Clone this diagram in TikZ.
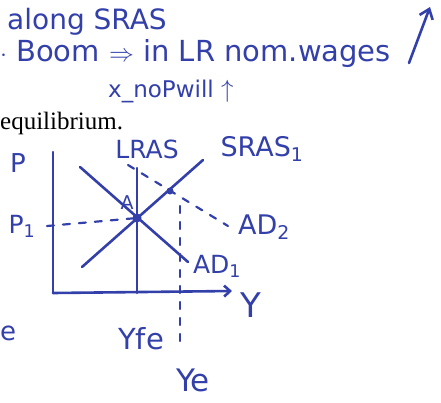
\documentclass[tikz,border=0pt]{standalone}
\usepackage{fontspec}
\setmainfont{Liberation Serif}
\newfontfamily\handfont{DejaVu Sans}
\usetikzlibrary{arrows.meta}

\definecolor{pen}{RGB}{52,64,170}

\begin{document}
\begin{tikzpicture}[x=1pt, y=-1pt,
    hand/.style={text=pen, font=\handfont\fontsize{#1}{#1}\selectfont, inner sep=0pt},
    hand/.default=24,
    curve/.style={draw=pen, line width=2.6pt, line cap=round},
    guide/.style={draw=pen, line width=2.2pt, dash pattern=on 7pt off 9pt, line cap=round},
    dot/.style={circle, fill=pen, inner sep=0pt, minimum size=#1}
  ]
  \useasboundingbox (0,0) rectangle (441,402);

  % notes on top
  \node[hand=28, anchor=base west] (along) at (7,29) {along SRAS};
  \node[hand=29, anchor=base west] (boom) at (0,61) {$\cdot$ Boom $\Rightarrow$ in LR nom.wages};
  \node[hand=23, anchor=base west] (noP) at (108,97) {x\_noPwill $\uparrow$};
  \coordinate (wlow) at (409,63);
  \coordinate (whigh) at (430,7);
  \draw[curve, -{Straight Barb[length=9pt, width=14pt]}] (wlow) -- (whigh);
  \node[anchor=base west, font=\fontsize{25}{25}\selectfont, inner sep=0pt] (eq) at (0,129) {equilibrium.};

  % axes
  \coordinate (O) at (53,293);
  \coordinate (ptop) at (53,152);
  \coordinate (yend) at (232,291);
  \draw[curve] (ptop) -- (O);
  \draw[curve, -{Straight Barb[length=6pt, width=11pt]}] (O) -- (yend);

  % curves
  \coordinate (A) at (137,218);
  \coordinate (B) at (170,191);
  \coordinate (lrtop) at (137,168);
  \coordinate (lrbot) at (137,293);
  \coordinate (srlow) at (82,267);
  \coordinate (srhigh) at (203,160);
  \coordinate (adhigh) at (80,167);
  \coordinate (adlow) at (188,262);
  \coordinate (adtwohigh) at (128,165);
  \coordinate (adtwolow) at (228,226);
  \coordinate (yetop) at (180,206);
  \coordinate (yebot) at (180,347);
  \coordinate (ptick) at (47,226);

  \draw[curve] (lrtop) -- (lrbot);
  \draw[curve] (srlow) -- (srhigh);
  \draw[curve] (adhigh) -- (adlow);
  \draw[guide] (adtwohigh) -- (adtwolow);
  \draw[guide] (yetop) -- (yebot);
  \draw[guide] (ptick) -- (A);
  \node[dot=9pt] (dA) at (A) {};
  \node[dot=7pt] (dB) at (B) {};

  % labels
  \node[hand=26] (lP) at (18,163) {P};
  \node[hand=25] (lPone) at (22,226) {P\textsubscript{1}};
  \node[hand=25] (lLRAS) at (147,149) {LRAS};
  \node[hand=27] (lSRAS) at (262,149) {SRAS\textsubscript{1}};
  \node[hand=19] (lA) at (127,203) {A};
  \node[hand=27] (lADtwo) at (264,227) {AD\textsubscript{2}};
  \node[hand=25] (lADone) at (217,266) {AD\textsubscript{1}};
  \node[hand=34] (lY) at (251,305) {Y};
  \node[hand=29] (lYfe) at (141,339) {Yfe};
  \node[hand=31] (lYe) at (193,380) {Ye};
  \node[hand=26, anchor=west] (le) at (0,333) {e};
\end{tikzpicture}
\end{document}
